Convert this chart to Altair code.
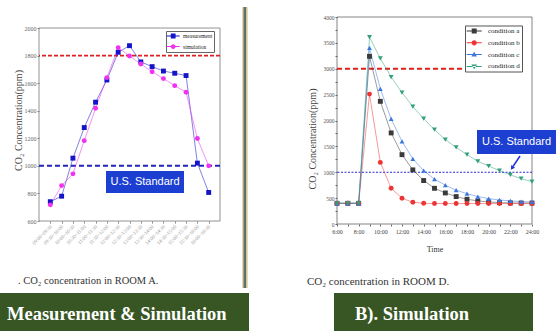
import altair as alt
import pandas as pd

# ---------------- data: left panel (ROOM A) ----------------
slots = ["09:00~09:30", "09:30~10:00", "10:00~10:30", "10:30~11:00", "11:00~11:30",
         "11:30~12:00", "12:00~12:30", "12:30~13:00", "13:00~13:30", "13:30~14:00",
         "14:00~14:30", "14:30~15:00", "15:00~15:30", "15:30~16:00", "16:00~16:30"]
measurement = [740, 780, 1056, 1278, 1462, 1623, 1824, 1872, 1754, 1720, 1688, 1672, 1655, 1020, 807]
simulation = [717, 857, 942, 1183, 1418, 1640, 1857, 1797, 1739, 1683, 1633, 1582, 1534, 1198, 1000]
left_series = ["measurement", "simulation"]
left_colors = ["#1414c8", "#f032f0"]
left_yticks = [600, 800, 1000, 1200, 1400, 1600, 1800, 2000]

# ---------------- data: right panel (ROOM D) ----------------
hours = list(range(6, 25))
cond_a = [400, 400, 400, 3240, 2370, 1760, 1340, 1046, 840, 690, 600, 530, 478, 446, 426, 413, 407, 405, 405]
cond_b = [400, 400, 400, 2510, 1190, 690, 497, 420, 400, 395, 395, 395, 395, 395, 395, 395, 395, 395, 395]
cond_c = [400, 400, 400, 3405, 2610, 2030, 1595, 1260, 1030, 866, 750, 653, 587, 529, 490, 465, 446, 433, 426]
cond_d = [400, 400, 400, 3610, 3200, 2840, 2540, 2270, 2035, 1822, 1630, 1480, 1340, 1210, 1120, 1030, 950, 875, 820]
right_series = ["condition a", "condition b", "condition c", "condition d"]
right_colors = ["#3a3a3a", "#ee3333", "#3a78e0", "#2fa07a"]
right_xticks = list(range(6, 25))
right_yticks = list(range(0, 4001, 250))

SERIF = "Liberation Serif"
SANS = "Liberation Sans"

left_df = pd.DataFrame(
    [{"slot": s, "lser": "measurement", "lval": v} for s, v in zip(slots, measurement)]
    + [{"slot": s, "lser": "simulation", "lval": v} for s, v in zip(slots, simulation)]
)
right_df = pd.DataFrame(
    [{"hour": h, "rser": name, "rval": v}
     for name, vals in zip(right_series, [cond_a, cond_b, cond_c, cond_d])
     for h, v in zip(hours, vals)]
)
one = pd.DataFrame({"k": [0]})

LW, LH = 181, 204
RW, RH = 195, 207

# ---------------- left panel ----------------
def lx_axis():
    return alt.Axis(title=None, labelAngle=315, labelFontSize=5, labelColor="#999",
                    labelFont=SERIF, tickSize=2, tickColor="#888", domain=False,
                    labelPadding=2, labelAlign="right", labelBaseline="middle",
                    labelOverlap=False)

def ly_axis():
    return alt.Axis(values=left_yticks, labelExpr="'' + datum.value",
                    grid=False, domain=False, tickSize=2, tickColor="#888",
                    labelFontSize=6, labelColor="#666", labelFont=SERIF, labelPadding=1,
                    labelOverlap=False, labelFlush=False, labelBound=False,
                    labelAlign="right", labelBaseline="middle",
                    title="CO₂ Concentration(ppm)", titleX=-20.5, titleY=103, titleAngle=270,
                    titleAlign="center", titleBaseline="middle", titleFont=SERIF,
                    titleFontSize=10, titleFontWeight="normal", titleColor="#444")

def ly_scale():
    return alt.Scale(domain=[600, 2080], nice=False, zero=False)

lx = alt.X("slot:N", sort=slots, scale=alt.Scale(type="point", padding=1.5), axis=lx_axis())
ly = alt.Y("lval:Q", scale=ly_scale(), axis=ly_axis())
lcolor = alt.Color("lser:N", scale=alt.Scale(domain=left_series, range=left_colors), legend=None)

def ly_datum(v):
    return alt.YDatum(v, type="quantitative", scale=ly_scale(), axis=ly_axis())

def legend_left():
    return alt.Legend(title=None, orient="none", legendX=127, legendY=14, padding=1,
                      strokeColor="#666", fillColor="white", symbolSize=64, symbolStrokeWidth=0,
                      labelFont=SERIF, labelFontSize=5.5, labelColor="#222", labelOffset=8,
                      rowPadding=2.6, labelLimit=60)

p_sq_l = "M-1.075,-0.12H2.175V0.12H-1.075Z M-0.05,-0.6H1.15V0.6H-0.05Z"
p_ci_l = "M-1.075,-0.12H2.175V0.12H-1.075Z M1.15,0A0.6,0.6 0 1,1 -0.05,0A0.6,0.6 0 1,1 1.15,0Z"

anchor = alt.Chart(one).mark_rect(opacity=0).encode(
    x=alt.value(-39), x2=alt.value(518), y=alt.value(-17), y2=alt.value(314))
lframe = alt.Chart(one).mark_rect(fill=None, stroke="#777", strokeWidth=0.8).encode(
    x=alt.value(0), x2=alt.value(LW), y=ly_datum(2000), y2=alt.Y2Datum(600))
lred = alt.Chart(one).mark_rule(color="#dd1f1f", strokeWidth=1.8, strokeDash=[4, 2]).encode(
    y=ly_datum(1800))
lblue = alt.Chart(one).mark_rule(color="#2424b8", strokeWidth=2, strokeDash=[5, 3]).encode(
    y=ly_datum(1000))
llines = alt.Chart(left_df).mark_line(strokeWidth=0.9, opacity=0.6).encode(
    x=lx, y=ly, color=lcolor, detail="lser:N")
lpoints = alt.Chart(left_df).mark_point(filled=True, opacity=1, size=24).encode(
    x=lx, y=ly, color=lcolor,
    shape=alt.Shape("lser:N", scale=alt.Scale(domain=left_series, range=["square", "circle"]),
                    legend=None))
lleg = alt.Chart(left_df).transform_filter("false").mark_point(filled=True, opacity=1).encode(
    color=alt.Color("lser:N", scale=alt.Scale(domain=left_series, range=left_colors),
                    legend=legend_left()),
    shape=alt.Shape("lser:N", scale=alt.Scale(domain=left_series, range=[p_sq_l, p_ci_l]),
                    legend=legend_left()))
lus_box = alt.Chart(one).mark_rect(fill="#1d3fd1").encode(
    x=alt.value(67), x2=alt.value(145), y=alt.value(154), y2=alt.value(176))
lus_txt = alt.Chart(one).mark_text(text="U.S. Standard", font=SANS, fontSize=11, color="white",
                                   align="center", baseline="middle").encode(
    x=alt.value(106), y=alt.value(165))
lcap = alt.Chart(one).mark_text(text=". CO₂ concentration in ROOM A.", font=SERIF, fontSize=10.5,
                                color="#333", align="left", baseline="middle").encode(
    x=alt.value(-21), y=alt.value(263.5))
ldiv1 = alt.Chart(one).mark_rect(fill="#e6dca4").encode(
    x=alt.value(203), x2=alt.value(209), y=alt.value(-10), y2=alt.value(271))
ldiv2 = alt.Chart(one).mark_rect(fill="#5d6f78").encode(
    x=alt.value(204.5), x2=alt.value(207.2), y=alt.value(-10), y2=alt.value(271))
lgreen = alt.Chart(one).mark_rect(fill="#375623").encode(
    x=alt.value(-39), x2=alt.value(210), y=alt.value(276), y2=alt.value(314))
lgreen_t = alt.Chart(one).mark_text(text="Measurement & Simulation", font=SERIF, fontSize=18.5,
                                    fontWeight="bold", color="white", align="left",
                                    baseline="middle").encode(
    x=alt.value(-32), y=alt.value(297))

left = alt.layer(anchor, lframe, lred, lblue, llines, lpoints, lleg, lus_box, lus_txt,
                 lcap, ldiv1, ldiv2, lgreen, lgreen_t).resolve_scale(
    shape="independent").resolve_legend(color="independent", shape="independent").properties(
    width=LW, height=LH)

# ---------------- right panel ----------------
def rx_axis():
    return alt.Axis(values=right_xticks,
                    labelExpr="datum.value % 2 == 0 ? datum.value + ':00' : ''",
                    grid=False, domain=False, tickSize=2, tickColor="#666",
                    labelFontSize=6, labelColor="#444", labelFont=SERIF, labelPadding=2,
                    labelOverlap=False, labelFlush=False,
                    title="Time", titleX=97.5, titleY=25, titleAlign="center",
                    titleBaseline="middle", titleFont=SERIF, titleFontSize=8,
                    titleFontWeight="normal", titleColor="#333")

def ry_axis():
    return alt.Axis(values=right_yticks, labelExpr="datum.value % 500 == 0 ? datum.value : ''",
                    grid=False, domain=False, tickSize=2, tickColor="#666",
                    labelFontSize=5.5, labelColor="#555", labelFont=SERIF, labelPadding=1,
                    labelOverlap=False, labelFlush=False,
                    title="CO₂ Concentration(ppm)", titleX=-24.5, titleY=121.5,
                    titleAngle=270, titleAlign="center", titleBaseline="middle",
                    titleFont=SERIF, titleFontSize=10, titleFontWeight="normal",
                    titleColor="#444")

def rx_scale():
    return alt.Scale(domain=[6, 24], nice=False, zero=False)

def ry_scale():
    return alt.Scale(domain=[0, 4000], nice=False, zero=False)

rx = alt.X("hour:Q", scale=rx_scale(), axis=rx_axis())
ry = alt.Y("rval:Q", scale=ry_scale(), axis=ry_axis())
rcolor = alt.Color("rser:N", scale=alt.Scale(domain=right_series, range=right_colors), legend=None)

def legend_right():
    return alt.Legend(title=None, orient="none", legendX=128, legendY=8.5, padding=1.5,
                      strokeColor="#555", fillColor="white", symbolSize=64, symbolStrokeWidth=0,
                      labelFont=SERIF, labelFontSize=7, labelColor="#222", labelOffset=13.5,
                      rowPadding=4.8, labelLimit=60)

LINE_R = "M-0.95,-0.12H2.8V0.12H-0.95Z "
p_r = [
    LINE_R + "M0.3,-0.625H1.55V0.625H0.3Z",
    LINE_R + "M1.575,0A0.65,0.65 0 1,1 0.275,0A0.65,0.65 0 1,1 1.575,0Z",
    LINE_R + "M0.925,-0.7L1.625,0.5H0.225Z",
    LINE_R + "M0.925,0.7L1.625,-0.5H0.225Z",
]

rframe = alt.Chart(one).mark_rect(fill=None, stroke="#666", strokeWidth=0.8).encode(
    x=alt.XDatum(6, type="quantitative", scale=rx_scale(), axis=rx_axis()), x2=alt.X2Datum(24),
    y=alt.YDatum(4000, type="quantitative", scale=ry_scale(), axis=ry_axis()), y2=alt.Y2Datum(0))
rred = alt.Chart(one).mark_rule(color="#dd1f1f", strokeWidth=2.2, strokeDash=[5, 3]).encode(
    x=alt.XDatum(6, type="quantitative", scale=rx_scale(), axis=rx_axis()), x2=alt.X2Datum(17.8),
    y=alt.YDatum(3000, type="quantitative", scale=ry_scale(), axis=ry_axis()))
rblue = alt.Chart(one).mark_rule(color="#2a2ad0", strokeWidth=1.2, strokeDash=[2, 1.5]).encode(
    y=alt.YDatum(1000, type="quantitative", scale=ry_scale(), axis=ry_axis()))
rlines = alt.Chart(right_df).mark_line(strokeWidth=1, opacity=0.5).encode(
    x=rx, y=ry, color=rcolor, detail="rser:N")
rpoints = alt.Chart(right_df).mark_point(filled=True, opacity=1, size=24).encode(
    x=rx, y=ry, color=rcolor,
    shape=alt.Shape("rser:N", scale=alt.Scale(domain=right_series,
                                               range=["square", "circle", "triangle-up", "triangle-down"]),
                    legend=None))
rleg = alt.Chart(right_df).transform_filter("false").mark_point(filled=True, opacity=1).encode(
    color=alt.Color("rser:N", scale=alt.Scale(domain=right_series, range=right_colors),
                    legend=legend_right()),
    shape=alt.Shape("rser:N", scale=alt.Scale(domain=right_series, range=p_r),
                    legend=legend_right()))
rus_box = alt.Chart(one).mark_rect(fill="#1d3fd1").encode(
    x=alt.value(140), x2=alt.value(219), y=alt.value(113), y2=alt.value(137))
rus_txt = alt.Chart(one).mark_text(text="U.S. Standard", font=SANS, fontSize=11, color="white",
                                   align="center", baseline="middle").encode(
    x=alt.value(179.5), y=alt.value(125))
rarrow = alt.Chart(one).mark_rule(color="#2030e0", strokeWidth=1.5).encode(
    x=alt.value(183), x2=alt.value(176), y=alt.value(139), y2=alt.value(149.5))
rhead = alt.Chart(one).mark_point(shape="triangle-up", filled=True, color="#2030e0", opacity=1,
                                  size=22, angle=214).encode(
    x=alt.value(175), y=alt.value(151))
rcap = alt.Chart(one).mark_text(text="CO₂ concentration in ROOM D.", font=SERIF, fontSize=11,
                                color="#333", align="left", baseline="middle").encode(
    x=alt.value(-30), y=alt.value(264.5))
rgreen = alt.Chart(one).mark_rect(fill="#375623").encode(
    x=alt.value(-3), x2=alt.value(196), y=alt.value(276), y2=alt.value(314))
rgreen_t = alt.Chart(one).mark_text(text="B). Simulation", font=SERIF, fontSize=18.5,
                                    fontWeight="bold", color="white", align="left",
                                    baseline="middle").encode(
    x=alt.value(18), y=alt.value(297))

right = alt.layer(rframe, rred, rblue, rlines, rpoints, rleg, rus_box, rus_txt, rarrow, rhead,
                  rcap, rgreen, rgreen_t).resolve_scale(
    shape="independent").resolve_legend(color="independent", shape="independent").properties(
    width=RW, height=RH)

chart = alt.hconcat(left, right, spacing=117, bounds="flush").resolve_scale(
    color="independent", shape="independent", x="independent", y="independent"
).resolve_legend(color="independent", shape="independent").properties(
    padding=0, autosize=alt.AutoSizeParams(type="pad")
).configure(background="white").configure_view(stroke=None).configure_axis(labelOverlap=False)

chart.save("out.html", embed_options={"renderer": "svg", "actions": False})
